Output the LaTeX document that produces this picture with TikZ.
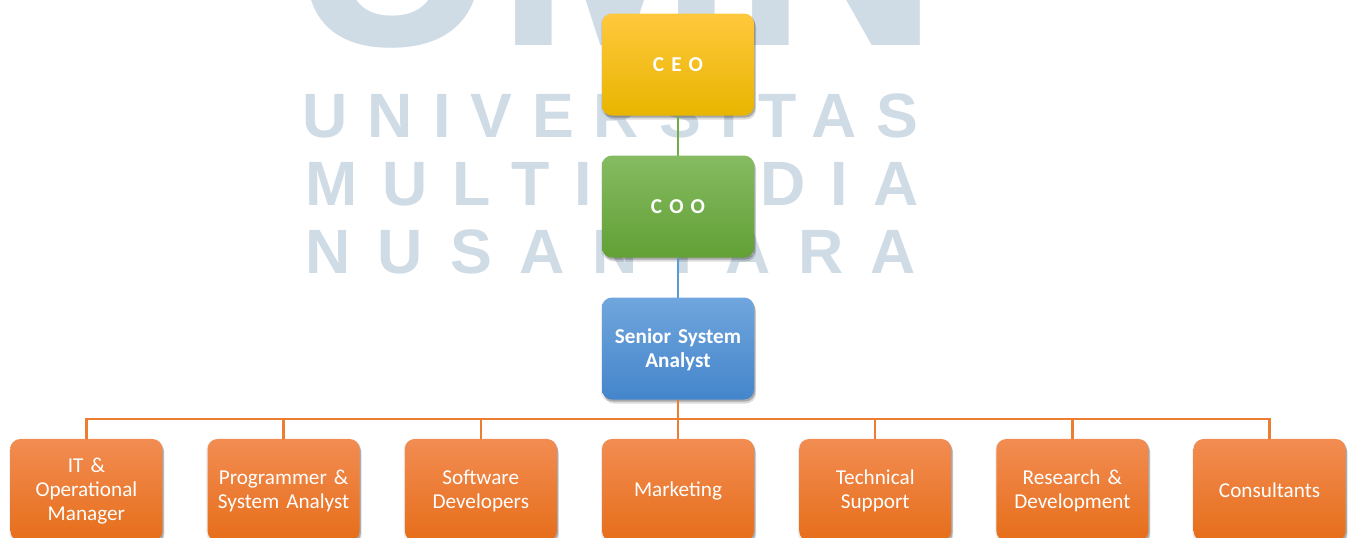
\documentclass[tikz,border=0pt]{standalone}
\usepackage{fontspec}
\setmainfont{Carlito}[WordSpace=0.65]
\newfontfamily\markfont{Liberation Sans}
\usetikzlibrary{positioning, shadows}

\definecolor{markBlue}{HTML}{CFDBE5}
\definecolor{lineGreen}{HTML}{70AD47}
\definecolor{lineBlue}{HTML}{5B9BD5}
\definecolor{lineOrange}{HTML}{ED7D31}
\definecolor{ceoTop}{HTML}{FFC83D}
\definecolor{ceoMid}{HTML}{FFC600}
\definecolor{ceoBot}{HTML}{E8B500}
\definecolor{cooTop}{HTML}{86BB62}
\definecolor{cooMid}{HTML}{71B143}
\definecolor{cooBot}{HTML}{62A035}
\definecolor{ssaTop}{HTML}{70A6DD}
\definecolor{ssaMid}{HTML}{5597D9}
\definecolor{ssaBot}{HTML}{4485CB}
\definecolor{deptTop}{HTML}{F28C52}
\definecolor{deptMid}{HTML}{F57C26}
\definecolor{deptBot}{HTML}{E66E1A}

\begin{document}
\begin{tikzpicture}[
  x=0.75pt, y=-0.75pt,
  font=\fontsize{15.9}{18}\selectfont,
  node distance=30pt
]
% -------------------- Styles --------------------
\tikzset{
  softShadow/.style={
    general shadow={shadow xshift=0pt, shadow yshift=-1pt, shadow scale=1.015, fill=black, opacity=.08},
    general shadow={shadow xshift=1pt, shadow yshift=-1.5pt, fill=black, opacity=.16},
    general shadow={shadow xshift=1.5pt, shadow yshift=-3pt, fill=black, opacity=.14}
  },
  box/.style={
    softShadow, rounded corners=7.5pt, text=white, align=center, outer sep=0pt,
    inner sep=2pt, text width=108pt, minimum width=114pt, minimum height=76.5pt,
    execute at begin node=\rule[-1.5pt]{0pt}{14pt}
  },
  ceoBox/.style={
    box, top color=ceoTop, middle color=ceoMid, bottom color=ceoBot, font=\fontsize{15.9}{18}\selectfont\bfseries
  },
  cooBox/.style={
    box, top color=cooTop, middle color=cooMid, bottom color=cooBot, font=\fontsize{15.9}{18}\selectfont\bfseries
  },
  ssaBox/.style={
    box, top color=ssaTop, middle color=ssaMid, bottom color=ssaBot, font=\fontsize{15.9}{18}\selectfont\bfseries
  },
  deptBox/.style={
    box, top color=deptTop, middle color=deptMid, bottom color=deptBot
  },
  link/.style={line width=1.8pt},
  markLine/.style={
    anchor=base west, inner sep=0pt, text=markBlue
  }
}

\useasboundingbox (0,0) rectangle (1354,537);

% -------------------- Watermark --------------------
\node[markLine, font=\markfont\bfseries\fontsize{214}{214}\selectfont] (umn) at (290,45) {UMN};
\node[markLine, font=\markfont\bfseries\fontsize{47}{47}\selectfont\addfontfeature{LetterSpace=31.8}] (univ) at (302.5,137) {UNIVERSITAS};
\node[markLine, font=\markfont\bfseries\fontsize{47}{47}\selectfont\addfontfeature{LetterSpace=39.8}] (multi) at (305,205) {MULTIMEDIA};
\node[markLine, font=\markfont\bfseries\fontsize{47}{47}\selectfont\addfontfeature{LetterSpace=43.6}] (nusa) at (305,273) {NUSANTARA};

% -------------------- Chain (centre column) --------------------
\node[ceoBox] (ceo) at (678,64.5) {C E O};
\node[cooBox, below=of ceo] (coo) {C O O};
\node[ssaBox, below=of coo] (ssa) {Senior System\\Analyst};

% -------------------- Departments (bottom row) --------------------
\node[deptBox, below=29.6pt of ssa] (market) {Marketing};
\node[deptBox, left=33.9pt of market] (soft) {Software\\Developers};
\node[deptBox, left=33.9pt of soft] (prog) {Programmer \&\\System Analyst};
\node[deptBox, left=33.9pt of prog] (itman) {IT \&\\Operational\\Manager};
\node[deptBox, right=33.9pt of market] (tech) {Technical\\Support};
\node[deptBox, right=33.9pt of tech] (research) {Research \&\\Development};
\node[deptBox, right=33.9pt of research] (consult) {Consultants};

% -------------------- Connectors --------------------
\coordinate (bus) at (678,419);

\draw[link, lineGreen] (ceo) -- (coo);
\draw[link, lineBlue] (coo) -- (ssa);
\draw[link, lineOrange] (ssa) -- (market);
\foreach \dept in {itman, prog, soft, tech, research, consult}
  \draw[link, lineOrange] (bus) -| (\dept.north);

\end{tikzpicture}
\end{document}
